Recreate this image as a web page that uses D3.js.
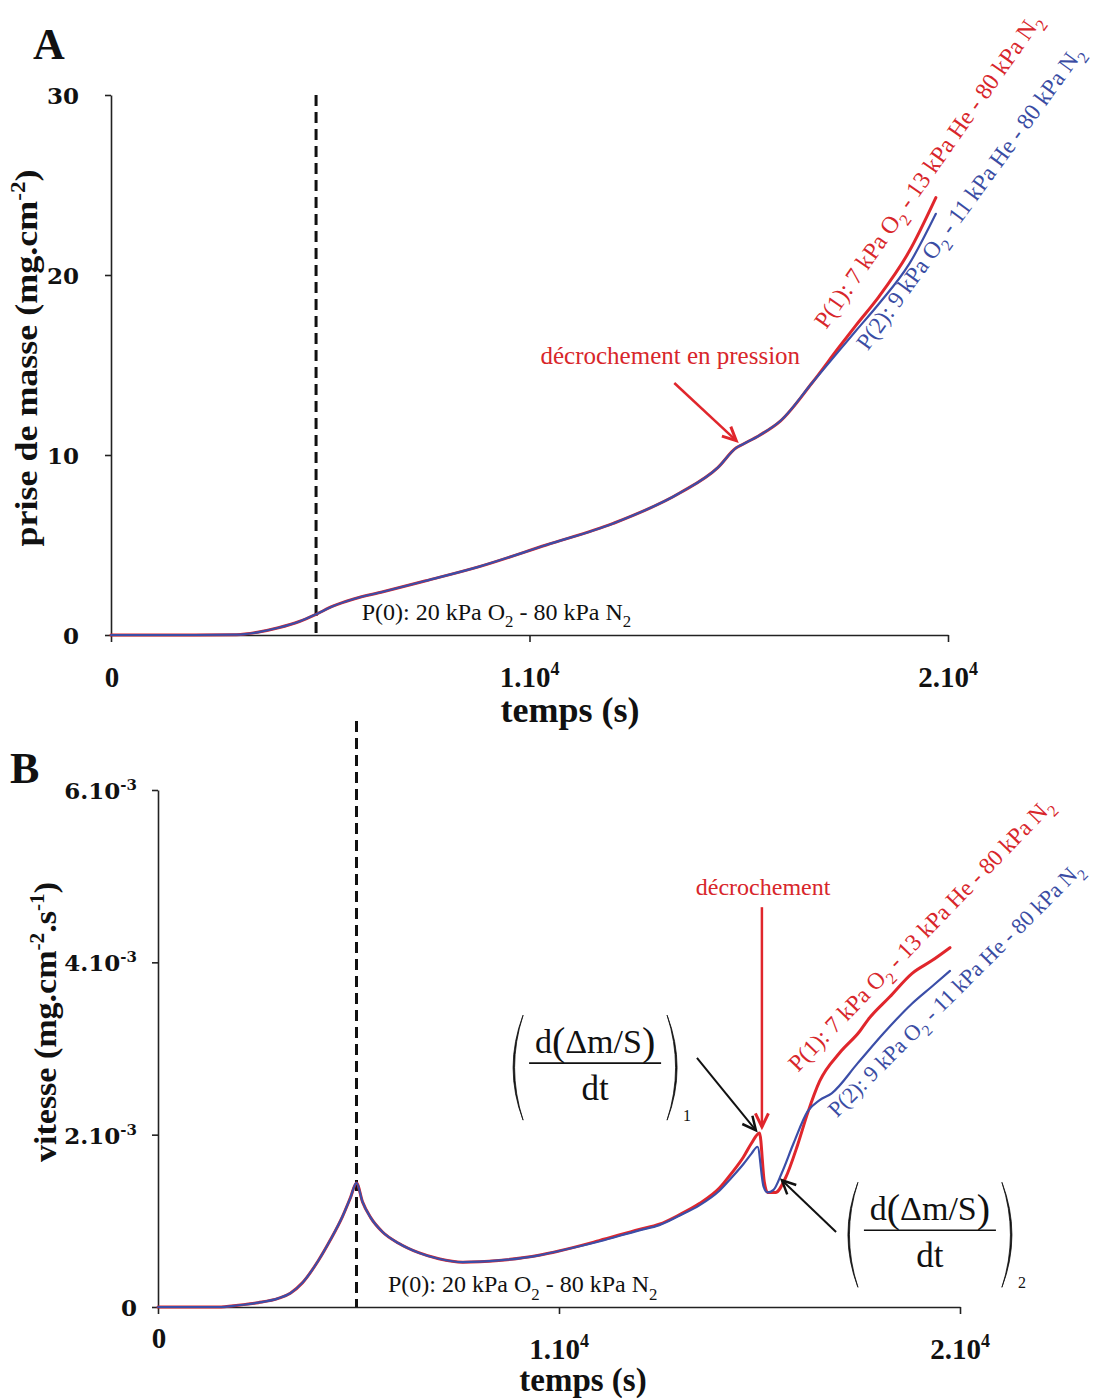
<!DOCTYPE html>
<html><head><meta charset="utf-8">
<script src="https://cdn.jsdelivr.net/npm/d3@7"></script>
<style>body{margin:0;background:#fff}</style>
</head><body><svg id="c" width="1097" height="1400"></svg>
<script>
// ---------- DATA ----------
// Panel A : prise de masse (mg.cm-2) vs temps (s)
const timeA     = [0,2000,3000,3500,4000,4500,4900,5300,5800,6500,7500,8800,10400,12000,13600,14500,14940,15100,15500,16000,16750,17400,17800,18350,19070,19710];
const massRedA  = [0,0,0.02,0.15,0.4,0.75,1.15,1.6,2.0,2.4,3.0,3.8,5.0,6.2,7.9,9.3,10.4,10.6,11.1,11.9,14.0,16.0,17.2,18.8,21.3,24.3];
const massBlueA = [0,0,0.02,0.15,0.4,0.75,1.15,1.6,2.0,2.4,3.0,3.8,5.0,6.2,7.9,9.3,10.4,10.6,11.1,11.9,14.0,15.8,16.9,18.4,20.6,23.4];

// Panel B : vitesse (mg.cm-2.s-1) vs temps (s)
const timeBRed = [0,1500,2000,2500,3000,3300,3600,4000,4300,4600,4800,4950,5100,5300,5600,6000,6500,7000,7600,8500,9500,10000,11000,12000,12500,13000,13500,14000,14300,14600,14800,15000,15120,15200,15400,15650,15950,16200,16500,17000,17500,17700,18250,18800,19300,19750];
const rateRed  = [0,0,0.02,0.05,0.1,0.16,0.28,0.54,0.78,1.05,1.27,1.44,1.22,1.04,0.87,0.74,0.63,0.56,0.52,0.54,0.6,0.65,0.77,0.9,0.96,1.07,1.2,1.38,1.55,1.74,1.9,2.02,1.45,1.33,1.33,1.5,1.88,2.25,2.62,2.95,3.2,3.33,3.6,3.87,4.02,4.17].map(v=>v*1e-3);
const timeBBlue = [0,1500,2000,2500,3000,3300,3600,4000,4300,4600,4800,4950,5100,5300,5600,6000,6500,7000,7600,8500,9500,10000,11000,12000,12500,13000,13500,14000,14300,14600,14800,14950,15100,15200,15350,15550,15850,16200,16500,16800,17450,18100,18800,19300,19750];
const rateBlue  = [0,0,0.02,0.05,0.1,0.16,0.28,0.54,0.78,1.05,1.27,1.44,1.22,1.04,0.87,0.74,0.63,0.56,0.52,0.54,0.6,0.65,0.76,0.89,0.95,1.06,1.18,1.35,1.5,1.66,1.78,1.86,1.4,1.33,1.36,1.55,1.9,2.27,2.4,2.48,2.83,3.18,3.52,3.72,3.9].map(v=>v*1e-3);

const xTicks = [0,10000,20000];
const xTickBase = ["0","1.10","2.10"];
const xTickSup  = ["","4","4"];
const yTicksA = [0,10,20,30];
const yTickABase = ["0","10","20","30"];
const yTicksB = [0,0.002,0.004,0.006];
const yTickBBase = ["0","2.10","4.10","6.10"];
const yTickBSup  = ["","-3","-3","-3"];
const dashTimeA = 4900, dashTimeB = 4950;

// ---------- DRAW ----------
const RED = "#e0262c", BLUE = "#3b4ea8", TRED = "#d8262b", TBLUE = "#3a4ca3";
const SERIF = "'Liberation Serif','Times New Roman',serif";
const TICKF = "'DejaVu Serif',serif";
const svg = d3.select("#c");
svg.append("rect").attr("width",1097).attr("height",1400).attr("fill","#fff");

const xA = d3.scaleLinear([0,20000],[111,948]);
const yA = d3.scaleLinear([0,30],[635,95]);
const xB = d3.scaleLinear([0,20000],[158,960]);
const yB = d3.scaleLinear([0,0.006],[1307,790]);

function supText(g, x, y, base, sup, size, anchor, font, supDy, supSize) {
  const t = g.append("text").attr("x",x).attr("y",y).attr("text-anchor",anchor)
    .attr("font-family",font).attr("font-size",size).attr("font-weight","bold").attr("fill","#111");
  t.append("tspan").text(base);
  if (sup) t.append("tspan").attr("dy",-supDy).attr("font-size",supSize).text(sup);
  return t;
}

function axes(x, y, yTicks, yBase, ySup, yLabOff, labelY0, labelY) {
  const g = svg.append("g");
  g.append("g").attr("transform",`translate(0,${y(0)})`)
    .call(d3.axisBottom(x).tickValues(xTicks).tickSize(7).tickSizeOuter(0).tickFormat(""));
  g.append("g").attr("transform",`translate(${x(0)},0)`)
    .call(d3.axisLeft(y).tickValues(yTicks).tickSize(6).tickSizeOuter(0).tickFormat(""));
  g.selectAll(".domain").attr("stroke","#222").attr("stroke-width",1.6);
  g.selectAll(".tick line").attr("stroke","#222").attr("stroke-width",1.6);
  xTicks.forEach((v,i)=>{
    supText(g, x(v)+(i===0?1:0), i===0?labelY0:labelY, xTickBase[i], xTickSup[i], 29, "middle", SERIF, 12, 18);
  });
  yTicks.forEach((v,i)=>{
    supText(g, x(0)-yLabOff, y(v)+9, yBase[i], ySup[i], 23, "end", TICKF, 9, 15);
  });
  return g;
}

// Panel A
axes(xA, yA, yTicksA, yTickABase, ["","","",""], 32, 687, 687);
svg.append("text").attr("x",570).attr("y",722).attr("text-anchor","middle").attr("font-family",SERIF)
  .attr("font-size",36).attr("font-weight","bold").attr("fill","#111").text("temps (s)");
{
  const t = svg.append("text").attr("transform",`translate(37,${(yA(0)+yA(30))/2 - 7})`+" rotate(-90)")
    .attr("text-anchor","middle").attr("font-family",SERIF).attr("font-size",31).attr("font-weight","bold").attr("fill","#111")
    .attr("textLength",377).attr("lengthAdjust","spacingAndGlyphs");
  t.append("tspan").text("prise de masse (mg.cm");
  t.append("tspan").attr("dy",-12).attr("font-size",20).text("-2");
  t.append("tspan").attr("dy",12).text(")");
}
svg.append("text").attr("x",33).attr("y",59).attr("font-family",SERIF).attr("font-size",44).attr("font-weight","bold").attr("fill","#111").text("A");

// Panel B
axes(xB, yB, yTicksB, yTickBBase, yTickBSup, 21, 1348, 1359);
svg.append("text").attr("x",583).attr("y",1391).attr("text-anchor","middle").attr("font-family",SERIF)
  .attr("font-size",33).attr("font-weight","bold").attr("fill","#111").text("temps (s)");
{
  const t = svg.append("text").attr("transform",`translate(56,1022) rotate(-90)`)
    .attr("text-anchor","middle").attr("font-family",SERIF).attr("font-size",32).attr("font-weight","bold").attr("fill","#111")
    .attr("textLength",280).attr("lengthAdjust","spacingAndGlyphs");
  t.append("tspan").text("vitesse (mg.cm");
  t.append("tspan").attr("dy",-12).attr("font-size",20).text("-2");
  t.append("tspan").attr("dy",12).text(".s");
  t.append("tspan").attr("dy",-12).attr("font-size",20).text("-1");
  t.append("tspan").attr("dy",12).text(")");
}
svg.append("text").attr("x",10).attr("y",783).attr("font-family",SERIF).attr("font-size",44).attr("font-weight","bold").attr("fill","#111").text("B");

// dashed lines
svg.append("line").attr("x1",xA(dashTimeA)).attr("x2",xA(dashTimeA)).attr("y1",yA(30)).attr("y2",yA(0))
  .attr("stroke","#111").attr("stroke-width",3).attr("stroke-dasharray","11,6");
svg.append("line").attr("x1",xB(dashTimeB)).attr("x2",xB(dashTimeB)).attr("y1",yB(0.0068)).attr("y2",yB(0))
  .attr("stroke","#111").attr("stroke-width",3).attr("stroke-dasharray","11,6");

// curves
function curve(xs, ys, x, y, color, w) {
  const line = d3.line().x((d,i)=>x(xs[i])).y(d=>y(d)).curve(d3.curveMonotoneX);
  svg.append("path").datum(ys).attr("d",line).attr("fill","none").attr("stroke",color)
    .attr("stroke-width",w).attr("stroke-linejoin","round").attr("stroke-linecap","round");
}
curve(timeA, massRedA, xA, yA, RED, 3);
curve(timeA, massBlueA, xA, yA, BLUE, 2.2);
curve(timeBRed, rateRed, xB, yB, RED, 3);
curve(timeBBlue, rateBlue, xB, yB, BLUE, 2.2);

// text with subscripts
function richText(g, x, y, parts, size, color, rot) {
  const t = g.append("text").attr("transform",`translate(${x},${y})`+(rot?` rotate(${rot})`:""))
    .attr("font-family",SERIF).attr("font-size",size).attr("fill",color);
  let shift = 0;
  parts.forEach(p=>{
    const ts = t.append("tspan");
    if (p.sub) { ts.attr("dy", size*0.3 - shift).attr("font-size",size*0.7); shift = size*0.3; }
    else { ts.attr("dy", -shift); shift = 0; }
    ts.text(p.t);
  });
  return t;
}
const p0 = [{t:"P(0): 20 kPa O"},{t:"2",sub:1},{t:" - 80 kPa N"},{t:"2",sub:1}];
const p1 = [{t:"P(1): 7 kPa O"},{t:"2",sub:1},{t:" - 13 kPa He - 80 kPa N"},{t:"2",sub:1}];
const p2 = [{t:"P(2): 9 kPa O"},{t:"2",sub:1},{t:" - 11 kPa He - 80 kPa N"},{t:"2",sub:1}];

richText(svg, xA(5990), yA(0.83), p0, 24, "#111");
richText(svg, xB(5735), yB(0.00017), p0, 24, "#111");
richText(svg, xA(17090), yA(16.95), p1, 24, TRED, -55);
richText(svg, xA(18080), yA(15.75), p2, 23.5, TBLUE, -54);
richText(svg, xB(15960), yB(0.00272), p1, 23.5, TRED, -46);
richText(svg, xB(16930), yB(0.00219), p2, 22.3, TBLUE, -45);

// arrows
function arrow(x1,y1,x2,y2,color,w) {
  svg.append("line").attr("x1",x1).attr("y1",y1).attr("x2",x2).attr("y2",y2)
    .attr("stroke",color).attr("stroke-width",w);
  const a = Math.atan2(y2-y1,x2-x1), L = 15, s = 0.45;
  const pts = [[x2-L*Math.cos(a-s), y2-L*Math.sin(a-s)],[x2,y2],[x2-L*Math.cos(a+s), y2-L*Math.sin(a+s)]];
  svg.append("path").attr("d",d3.line()(pts)).attr("fill","none").attr("stroke",color)
    .attr("stroke-width",w+0.5).attr("stroke-linejoin","miter");
}
svg.append("text").attr("x",xA(13365)).attr("y",yA(15.05)).attr("text-anchor","middle")
  .attr("font-family",SERIF).attr("font-size",25).attr("fill",TRED).text("décrochement en pression");
arrow(xA(13460),yA(14.0),xA(14940),yA(10.8),RED,2.5);
svg.append("text").attr("x",xB(15090)).attr("y",yB(0.00478)).attr("text-anchor","middle")
  .attr("font-family",SERIF).attr("font-size",24).attr("fill",TRED).text("décrochement");
arrow(xB(15060),yB(0.00464),xB(15060),yB(0.00209),RED,2.5);
arrow(xB(13440),yB(0.00289),xB(14910),yB(0.00205),"#111",2);
arrow(xB(16910),yB(0.00087),xB(15560),yB(0.00147),"#111",2);

// formulas
function paren(g, x, top, bot, dir) {
  const mid = (top+bot)/2, bulge = 20*dir, thick = 3*dir;
  g.append("path").attr("d",
    `M${x},${top} Q${x-bulge},${mid} ${x},${bot} Q${x-bulge+thick},${mid} ${x},${top} Z`)
    .attr("fill","#111").attr("stroke","#111").attr("stroke-width",0.8);
}
function formula(cx, ly, sub) {
  const g = svg.append("g");
  const num = g.append("text").attr("x",cx).attr("y",ly-10).attr("text-anchor","middle").attr("font-family",SERIF)
    .attr("font-size",34).attr("fill","#111");
  num.append("tspan").text("d");
  num.append("tspan").attr("font-size",40).attr("dy",2).text("(");
  num.append("tspan").attr("dy",-2).text("Δm/S");
  num.append("tspan").attr("font-size",40).attr("dy",2).text(")");
  g.append("line").attr("x1",cx-66).attr("x2",cx+66).attr("y1",ly).attr("y2",ly).attr("stroke","#111").attr("stroke-width",1.6);
  g.append("text").attr("x",cx).attr("y",ly+37).attr("text-anchor","middle").attr("font-family",SERIF)
    .attr("font-size",35).attr("fill","#111").text("dt");
  paren(g, cx-72, ly-48, ly+57, 1);
  paren(g, cx+72, ly-48, ly+57, -1);
  g.append("text").attr("x",cx+88).attr("y",ly+58).attr("font-family",SERIF).attr("font-size",16)
    .attr("fill","#111").text(sub);
}
formula(xB(10900), yB(0.00283), "1");
formula(xB(19250), yB(0.00089), "2");
</script></body></html>
